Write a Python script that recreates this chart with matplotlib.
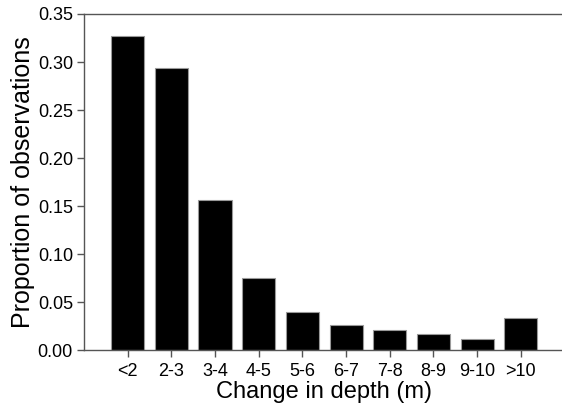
import matplotlib
matplotlib.use("Agg")
import matplotlib.pyplot as plt
import numpy as np

plt.rcParams['font.family'] = ['Liberation Sans', 'DejaVu Sans']

# depth change bins and proportions
categories = ['<2', '2-3', '3-4', '4-5', '5-6', '6-7', '7-8', '8-9', '9-10', '>10']
proportions = [0.327, 0.294, 0.156, 0.075, 0.040, 0.026, 0.021, 0.017, 0.012, 0.033]

fig = plt.figure(figsize=(5.62, 4.11), dpi=100)
ax = fig.add_axes([0.1495, 0.148, 0.855, 0.818])

x = np.arange(len(categories))
ax.bar(x, proportions, width=0.76, color='black', edgecolor='#999999', linewidth=0.8)

ax.set_xlim(-1, 10)
ax.set_ylim(0, 0.35)
yt = np.arange(0, 0.351, 0.05)
ax.set_yticks(yt)
ax.set_yticklabels([f'{v:.2f}' for v in yt])
ax.set_xticks(x)
ax.set_xticklabels(categories)

for s in ax.spines.values():
    s.set_color('#555555')
    s.set_linewidth(1.0)
ax.tick_params(direction='out', length=5, width=1.0, color='#555555',
               labelsize=13, pad=3)
ax.tick_params(axis='x', pad=4)

ax.set_xlabel('Change in depth (m)', fontsize=17, labelpad=1)
ax.set_ylabel('Proportion of observations', fontsize=18, labelpad=2)

fig.savefig('out.png', dpi=100)
plt.close(fig)
